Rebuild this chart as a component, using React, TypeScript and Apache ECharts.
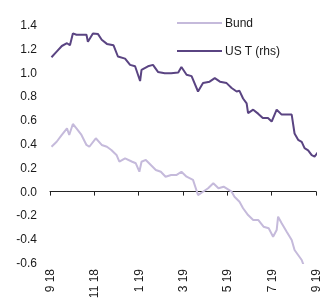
import React, { useEffect, useRef } from "react";
import * as echarts from "echarts";

const xTickLabels = ["9 18", "11 18", "1 19", "3 19", "5 19", "7 19", "9 19"];
const yTickMin = -0.6;
const yTickMax = 1.4;

const bundDates = [
  "2018-09-03", "2018-09-10", "2018-09-17", "2018-09-24", "2018-09-27", "2018-10-02", "2018-10-07",
  "2018-10-14", "2018-10-21", "2018-10-25", "2018-11-03", "2018-11-11", "2018-11-18", "2018-11-24",
  "2018-12-01", "2018-12-05", "2018-12-13", "2018-12-23", "2018-12-28", "2019-01-02", "2019-01-05",
  "2019-01-11", "2019-01-18", "2019-01-25", "2019-02-01", "2019-02-07", "2019-02-14", "2019-02-21",
  "2019-02-27", "2019-03-06", "2019-03-15", "2019-03-22", "2019-03-29", "2019-04-05", "2019-04-12",
  "2019-04-19", "2019-04-26", "2019-05-07", "2019-05-11", "2019-05-18", "2019-05-23", "2019-05-30",
  "2019-06-06", "2019-06-13", "2019-06-20", "2019-06-27", "2019-07-03", "2019-07-08", "2019-07-10",
  "2019-07-15", "2019-07-22", "2019-07-29", "2019-08-02", "2019-08-07", "2019-08-12", "2019-08-16",
  "2019-08-23", "2019-08-30", "2019-09-06",
];
const bundValues = [
  0.377, 0.419, 0.476, 0.532, 0.476, 0.568, 0.532,
  0.476, 0.392, 0.377, 0.448, 0.392, 0.377, 0.35,
  0.308, 0.251, 0.28, 0.251, 0.238, 0.167, 0.251,
  0.266, 0.224, 0.182, 0.167, 0.125, 0.14, 0.14,
  0.167, 0.125, 0.098, -0.029, -0.001, 0.028, 0.07,
  0.028, 0.041, -0.001, -0.043, -0.085, -0.14, -0.197,
  -0.239, -0.239, -0.295, -0.308, -0.379, -0.323, -0.211,
  -0.266, -0.337, -0.407, -0.491, -0.533, -0.575, -0.64,
  -0.7, -0.66, -0.6,
];

const ustDates = [
  "2018-09-03", "2018-09-10", "2018-09-17", "2018-09-24", "2018-09-28", "2018-10-02", "2018-10-07",
  "2018-10-14", "2018-10-21", "2018-10-23", "2018-10-30", "2018-11-06", "2018-11-11", "2018-11-18",
  "2018-11-27", "2018-12-03", "2018-12-13", "2018-12-20", "2018-12-27", "2019-01-03", "2019-01-05",
  "2019-01-14", "2019-01-21", "2019-01-28", "2019-02-06", "2019-02-14", "2019-02-23", "2019-02-27",
  "2019-03-06", "2019-03-13", "2019-03-22", "2019-03-29", "2019-04-07", "2019-04-14", "2019-04-21",
  "2019-04-30", "2019-05-07", "2019-05-14", "2019-05-18", "2019-05-23", "2019-05-28", "2019-05-30",
  "2019-06-06", "2019-06-13", "2019-06-19", "2019-06-26", "2019-07-01", "2019-07-08", "2019-07-15",
  "2019-07-22", "2019-07-29", "2019-08-02", "2019-08-07", "2019-08-12", "2019-08-16", "2019-08-21",
  "2019-08-26", "2019-08-30", "2019-09-04", "2019-09-07",
];
const ustValues = [
  2.94, 3.02, 3.1, 3.14, 3.11, 3.28, 3.26,
  3.26, 3.26, 3.16, 3.28, 3.27, 3.19, 3.13,
  3.11, 2.95, 2.92, 2.83, 2.81, 2.6, 2.76,
  2.81, 2.83, 2.73, 2.71, 2.71, 2.72, 2.8,
  2.69, 2.67, 2.45, 2.57, 2.59, 2.64, 2.59,
  2.57, 2.5, 2.45, 2.46, 2.35, 2.28, 2.14,
  2.19, 2.13, 2.07, 2.07, 2.02, 2.19, 2.12,
  2.12, 2.12, 1.85, 1.76, 1.73, 1.64, 1.61,
  1.54, 1.52, 1.59, 1.6,
];

// months elapsed since 1 Sep 2018
function monthIndex(s: string): number {
  const [y, m, d] = s.split("-").map(Number);
  const dim = new Date(y, m, 0).getDate();
  return (y - 2018) * 12 + (m - 9) + (d - 1) / dim;
}

const FONT = "Liberation Sans, Arial, sans-serif";
const BUND = "#c5badb";
const UST = "#5a4482";

export default function App() {
  const ref = useRef<HTMLDivElement>(null);
  useEffect(() => {
    if (!ref.current) return;
    const chart = echarts.init(ref.current, undefined, { renderer: "svg" });
    chart.setOption({
      animation: false,
      textStyle: { fontFamily: FONT },
      legend: {
        orient: "vertical",
        left: 177,
        top: 16,
        padding: 0,
        icon: "rect",
        itemWidth: 45,
        itemHeight: 2,
        itemGap: 14,
        textStyle: {
          fontFamily: FONT,
          fontSize: 12,
          color: "#1a1a1a",
          lineHeight: 14,
          padding: [0, 0, 0, -2],
        },
        data: [
          { name: "Bund", itemStyle: { color: BUND } },
          { name: "US T (rhs)", itemStyle: { color: UST } },
        ],
      },
      grid: { left: 50, right: 9, top: 25, bottom: 41, containLabel: false },
      xAxis: {
        type: "value",
        min: 0,
        max: 12,
        interval: 2,
        axisLine: { show: true, lineStyle: { color: "#222", width: 1 } },
        axisTick: { show: true, length: 4, lineStyle: { color: "#222" } },
        splitLine: { show: false },
        axisLabel: {
          rotate: 90,
          fontFamily: FONT,
          fontSize: 12,
          color: "#1a1a1a",
          margin: 6,
          formatter: (v: number) => xTickLabels[Math.round(v / 2)] ?? "",
        },
      },
      yAxis: [
        {
          type: "value",
          min: yTickMin,
          max: yTickMax,
          interval: 0.2,
          axisLine: { show: false },
          axisTick: { show: false },
          splitLine: { show: false },
          axisLabel: {
            fontFamily: FONT,
            fontSize: 12,
            color: "#1a1a1a",
            margin: 13,
            formatter: (v: number) => v.toFixed(1),
          },
        },
        { type: "value", min: 0, max: 3.4, show: false, splitLine: { show: false } },
      ],
      series: [
        {
          name: "Bund",
          type: "line",
          yAxisIndex: 0,
          symbol: "none",
          clip: true,
          lineStyle: { color: BUND, width: 2 },
          itemStyle: { color: BUND },
          data: bundDates.map((d, i) => [monthIndex(d), bundValues[i]]),
        },
        {
          name: "US T (rhs)",
          type: "line",
          yAxisIndex: 1,
          symbol: "none",
          clip: false,
          lineStyle: { color: UST, width: 2 },
          itemStyle: { color: UST },
          data: ustDates.map((d, i) => [monthIndex(d), ustValues[i]]),
        },
      ],
    });
    return () => chart.dispose();
  }, []);
  return (
    <div
      ref={ref}
      style={{ position: "fixed", left: 0, top: 0, width: 325, height: 304 }}
    />
  );
}
